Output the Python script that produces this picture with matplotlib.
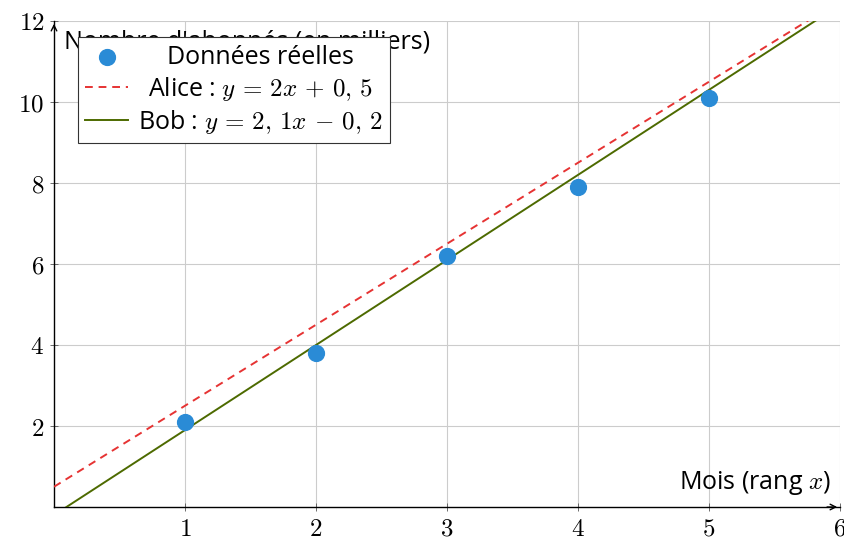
import matplotlib
matplotlib.use("Agg")
import matplotlib.pyplot as plt
import numpy as np

plt.rcParams['mathtext.fontset'] = 'cm'
plt.rcParams['font.family'] = ['Open Sans', 'DejaVu Sans']

# Data
months = [1, 2, 3, 4, 5]
subscribers = [2.1, 3.8, 6.2, 7.9, 10.1]
alice_a, alice_b = 2.0, 0.5
bob_a, bob_b = 2.1, -0.2
x_ticks = [1, 2, 3, 4, 5, 6]
y_ticks = [2, 4, 6, 8, 10, 12]

fig = plt.figure(figsize=(8.44, 5.39), dpi=100)
ax = fig.add_axes([54/844, 1-507/539, (840-54)/844, (507-21)/539])

xs = np.linspace(0, 6, 200)
ax.scatter(months, subscribers, s=130, color='#2a8bd6', zorder=4, label='Données réelles')
ax.plot(xs, alice_a*xs + alice_b, color='#e63333', lw=1.4, ls=(0, (4, 3)), zorder=3,
        label='Alice : $y\\,=\\,2x\\,+\\,0,\\,5$')
ax.plot(xs, bob_a*xs + bob_b, color='#4d6a00', lw=1.4, zorder=3,
        label='Bob : $y\\,=\\,2,\\,1x\\,-\\,0,\\,2$')

ax.set_xlim(0, 6)
ax.set_ylim(0, 12)
ax.set_xticks(x_ticks)
ax.set_yticks(y_ticks)
ax.set_xticklabels([f'${t}$' for t in x_ticks], fontsize=18)
ax.set_yticklabels([f'${t}$' for t in y_ticks], fontsize=18)
ax.tick_params(direction='inout', length=6, width=0.6, color='#555555', pad=4)
ax.grid(True, color='#cccccc', lw=0.8, zorder=0)
ax.set_axisbelow(True)
for s in ['top', 'right']:
    ax.spines[s].set_visible(False)
for s in ['left', 'bottom']:
    ax.spines[s].set_linewidth(1.0)

# arrows
ax.annotate('', xy=(1.0, 0), xytext=(0.98, 0), xycoords='axes fraction',
            arrowprops=dict(arrowstyle='->', lw=1.0, color='black'), annotation_clip=False)
ax.annotate('', xy=(0, 1.0), xytext=(0, 0.98), xycoords='axes fraction',
            arrowprops=dict(arrowstyle='->', lw=1.0, color='black'), annotation_clip=False)

ax.text(0.0127, 0.957, "Nombre d'abonnés (en milliers)", transform=ax.transAxes,
        fontsize=18, ha='left', va='center', zorder=1)
ax.text(0.988, 0.05, 'Mois (rang $x$)', transform=ax.transAxes,
        fontsize=18, ha='right', va='center')

leg = ax.legend(loc='upper left', bbox_to_anchor=(0.0305, 0.967), borderaxespad=0,
                fontsize=18, fancybox=False, framealpha=1, edgecolor='#333333',
                handlelength=1.7, handletextpad=0.4, borderpad=0.3, labelspacing=0.2)
leg.get_frame().set_linewidth(0.8)
leg.set_zorder(10)

# centre the legend labels within their column (as in the reference)
fig.canvas.draw()
renderer = fig.canvas.get_renderer()
widths = [t.get_window_extent(renderer).width * 72 / fig.dpi for t in leg.get_texts()]
maxw = max(widths)
try:
    items = []
    for col in leg._legend_handle_box.get_children():
        items.extend(col.get_children())
    for item, w in zip(items, widths):
        item.sep = item.sep + (maxw - w) / 2
except Exception:
    pass

fig.savefig('out.png', dpi=100)
